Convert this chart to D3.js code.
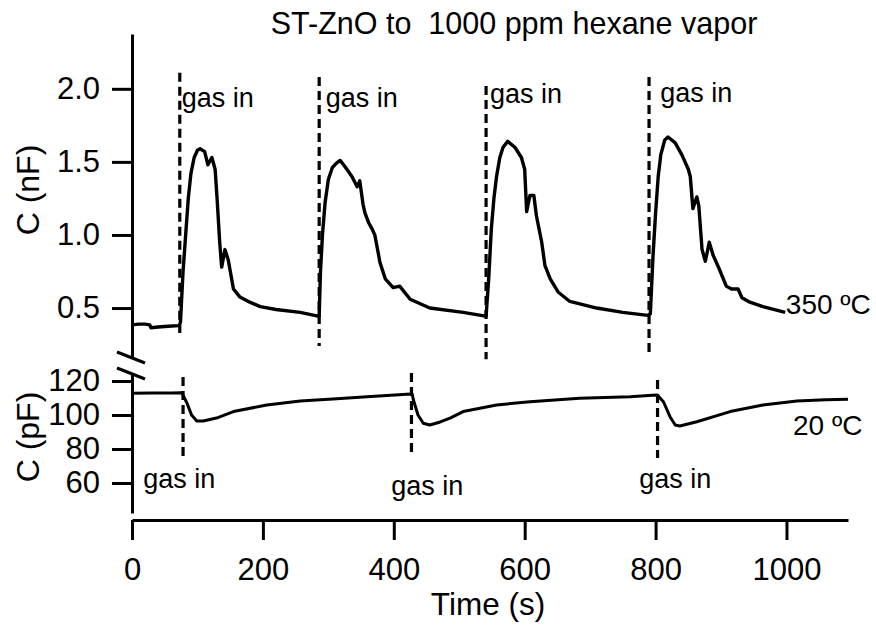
<!DOCTYPE html>
<html>
<head>
<meta charset="utf-8">
<script src="https://cdn.jsdelivr.net/npm/d3@7/dist/d3.min.js"></script>
<style>
  html, body { margin: 0; padding: 0; background: #fff; }
  svg { display: block; }
  text { font-family: "Liberation Sans", Arial, Helvetica, sans-serif; fill: #000; }
</style>
</head>
<body>
<svg id="chart" width="876" height="625"></svg>
<script>
// ---- data ----
const topTime = [0,10,20,27,29,40,55,72,74,78,82,86,90,95,100,104,111,116,122,127,130,134,137,142,147,155,165,180,196,220,257,284,
  286,288,291,295,300,306,312,318,325,336,344,348,353,356,362,367,371,379,387,399,409,425,455,506,540,
  541,545,549,553,557,562,567,574,585,595,600,603,608,614,618,626,631,639,651,669,710,750,788,
  792,796,800,804,808,814,819,830,840,850,853,857,863,866,871,876,882,888,898,908,916,926,932,944,964,998];
const topCap = [0.385,0.39,0.39,0.385,0.365,0.37,0.375,0.38,0.40,0.75,1.0,1.25,1.42,1.53,1.58,1.59,1.57,1.48,1.53,1.45,1.25,0.95,0.78,0.90,0.83,0.63,0.575,0.54,0.51,0.49,0.47,0.445,
  0.445,0.75,1.0,1.22,1.38,1.46,1.49,1.51,1.47,1.40,1.33,1.37,1.21,1.15,1.08,1.04,1.00,0.81,0.70,0.64,0.65,0.56,0.50,0.47,0.445,
  0.445,0.70,1.04,1.25,1.40,1.53,1.60,1.64,1.60,1.53,1.45,1.16,1.27,1.27,1.13,0.95,0.79,0.70,0.61,0.545,0.50,0.47,0.45,
  0.46,0.85,1.15,1.40,1.55,1.65,1.67,1.63,1.55,1.45,1.40,1.18,1.26,1.20,0.90,0.82,0.95,0.86,0.76,0.65,0.63,0.63,0.57,0.54,0.51,0.47];

const botTime = [0,30,60,76,84,91,99,109,129,155,206,257,307,359,420,428,430,437,445,455,471,486,506,557,608,684,761,801,803,812,822,830,837,863,914,964,1016,1060,1094];
const botCap  = [112.8,112.9,113.0,113.1,107,100,96.5,96.5,98.2,102,105.9,108.2,109.4,110.8,112.2,112.4,108.8,100,95.1,94.1,95.9,98.2,102,105.9,107.8,109.8,110.8,111.8,111.6,107.8,99,94.1,93.5,96,102,105.9,108.2,109.0,109.2];

// gas-in markers: time, line top/bottom (data units), label position
const gasInTopTime   = [73, 286, 541, 790];
const gasInTopHigh   = [2.11, 2.08, 2.02, 2.08];
const gasInTopLow    = [0.33, 0.24, 0.15, 0.17];
const gasInTopLabelT = [76, 296, 547, 807];
const gasInTopLabelV = [1.875, 1.875, 1.90, 1.91];

const gasInBotTime   = [78, 427, 803];
const gasInBotHigh   = [122.4, 124.7, 120.6];
const gasInBotLow    = [75.3, 77.6, 74.7];
const gasInBotLabelT = [17, 396, 775];
const gasInBotLabelV = [57, 53, 57];

const xTicks = [0, 200, 400, 600, 800, 1000];
const yTopTicks = [0.5, 1.0, 1.5, 2.0];
const yBotTicks = [60, 80, 100, 120];

// ---- scales ----
const svg = d3.select("#chart");
svg.append("rect").attr("width", 876).attr("height", 625).attr("fill", "#fff");

const x = d3.scaleLinear().domain([0, 1094]).range([132, 848]);
const yTop = d3.scaleLinear().domain([0.165, 2.375]).range([357, 34]);
const yBot = d3.scaleLinear().domain([42.35, 124.7]).range([513, 373]);

function styleAxis(g, fs) {
  g.selectAll("path.domain").attr("stroke", "#000").attr("stroke-width", 3);
  g.selectAll(".tick line").attr("stroke", "#000").attr("stroke-width", 3);
  g.selectAll(".tick text").attr("font-size", fs).attr("font-family", "Liberation Sans, Arial, sans-serif").attr("fill", "#000");
}

// x axis
const gx = svg.append("g").attr("transform", "translate(0,520)")
  .call(d3.axisBottom(x).tickValues(xTicks).tickFormat(d3.format("d")).tickSize(20).tickSizeOuter(0).tickPadding(18));
styleAxis(gx, 31);

// top y axis
const gyt = svg.append("g").attr("transform", "translate(132,0)")
  .call(d3.axisLeft(yTop).tickValues(yTopTicks).tickFormat(d3.format(".1f")).tickSize(20).tickSizeOuter(0).tickPadding(12));
styleAxis(gyt, 31);

// bottom y axis
const gyb = svg.append("g").attr("transform", "translate(132,0)")
  .call(d3.axisLeft(yBot).tickValues(yBotTicks).tickSize(20).tickSizeOuter(0).tickPadding(12));
styleAxis(gyb, 31);

// axis break marks
const brk = [yTop.range()[0], yBot.range()[1]];
brk.forEach((yy) => {
  svg.append("line")
    .attr("x1", x(0) - 15).attr("y1", yy - 5)
    .attr("x2", x(0) + 13).attr("y2", yy + 6)
    .attr("stroke", "#000").attr("stroke-width", 3);
});

// data lines
const lineTop = d3.line().x((d, i) => x(topTime[i])).y(d => yTop(d));
svg.append("path").datum(topCap).attr("d", lineTop)
  .attr("fill", "none").attr("stroke", "#000").attr("stroke-width", 3.4)
  .attr("stroke-linejoin", "round");

const lineBot = d3.line().x((d, i) => x(botTime[i])).y(d => yBot(d));
svg.append("path").datum(botCap).attr("d", lineBot)
  .attr("fill", "none").attr("stroke", "#000").attr("stroke-width", 3)
  .attr("stroke-linejoin", "round");

// gas-in dashed markers
gasInTopTime.forEach((t, i) => {
  svg.append("line").attr("x1", x(t)).attr("x2", x(t))
    .attr("y1", yTop(gasInTopHigh[i])).attr("y2", yTop(gasInTopLow[i]))
    .attr("stroke", "#000").attr("stroke-width", 3.2).attr("stroke-dasharray", "9,5");
  svg.append("text").attr("x", x(gasInTopLabelT[i])).attr("y", yTop(gasInTopLabelV[i]))
    .attr("font-size", 27).text("gas in");
});
gasInBotTime.forEach((t, i) => {
  svg.append("line").attr("x1", x(t)).attr("x2", x(t))
    .attr("y1", yBot(gasInBotHigh[i])).attr("y2", yBot(gasInBotLow[i]))
    .attr("stroke", "#000").attr("stroke-width", 3.2).attr("stroke-dasharray", "9,5");
  svg.append("text").attr("x", x(gasInBotLabelT[i])).attr("y", yBot(gasInBotLabelV[i]))
    .attr("font-size", 27).text("gas in");
});

// series labels
svg.append("text").attr("x", x(999)).attr("y", yTop(0.46)).attr("font-size", 28).text("350 ºC");
svg.append("text").attr("x", x(1010)).attr("y", yBot(88.3)).attr("font-size", 28).text("20 ºC");

// titles
svg.append("text").attr("x", 514).attr("y", 34).attr("text-anchor", "middle").attr("font-size", 30.5)
  .text("ST-ZnO to \u00a01000 ppm hexane vapor");
svg.append("text").attr("x", 488).attr("y", 615).attr("text-anchor", "middle").attr("font-size", 31.5)
  .text("Time (s)");
svg.append("text").attr("transform", "translate(39,190) rotate(-90)").attr("text-anchor", "middle")
  .attr("font-size", 32).text("C (nF)");
svg.append("text").attr("transform", "translate(39,437) rotate(-90)").attr("text-anchor", "middle")
  .attr("font-size", 32).text("C (pF)");
</script>
</body>
</html>
